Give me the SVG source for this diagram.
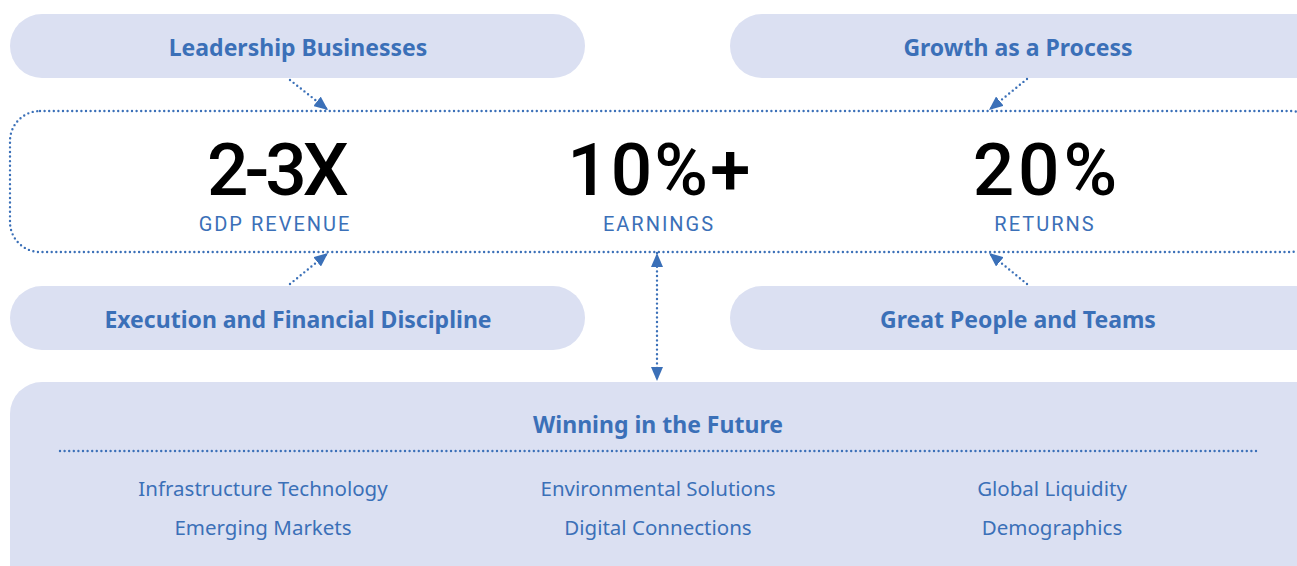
<svg xmlns="http://www.w3.org/2000/svg" width="1297" height="566" viewBox="0 0 1297 566">
  <defs>
    <style>
      .pill { fill: #dbe0f2; }
      .head { font-family: "Noto Sans", "DejaVu Sans", sans-serif; font-weight: 700; font-size: 23px; fill: #3b70b8; text-anchor: middle; }
      .big { font-family: Roboto, "Noto Sans", sans-serif; font-weight: 500; font-size: 73px; fill: #000; text-anchor: middle; }
      .sub { font-family: Roboto, "Noto Sans", sans-serif; font-size: 20px; letter-spacing: 2px; fill: #3b70b8; text-anchor: middle; }
      .item { font-family: "Noto Sans", "DejaVu Sans", sans-serif; font-size: 20.5px; fill: #3b70b8; text-anchor: middle; }
      .dots { fill: none; stroke: #3b70b8; stroke-width: 2.4; stroke-linecap: round; stroke-dasharray: 0 4.6; }
    </style>
    <marker id="arrow" viewBox="0 0 14 12" refX="14" refY="6" markerWidth="14" markerHeight="12" markerUnits="userSpaceOnUse" orient="auto-start-reverse">
      <path d="M0,0 L14,6 L0,12 Z" fill="#3b70b8"/>
    </marker>
  </defs>

  <!-- central metrics frame -->
  <g id="metrics">
    <rect class="dots" x="10" y="111" width="1310" height="141" rx="30"/>
    <text class="big" x="276" y="195" letter-spacing="-4">2-3X</text>
    <text class="sub" x="275" y="231">GDP REVENUE</text>
    <text class="big" x="660" y="195" letter-spacing="2">10%+</text>
    <text class="sub" x="659" y="231">EARNINGS</text>
    <text class="big" x="1047" y="195" letter-spacing="4">20%</text>
    <text class="sub" x="1045" y="231">RETURNS</text>
  </g>

  <g id="leadership">
    <rect class="pill" x="10" y="14" width="575" height="64" rx="32"/>
    <text class="head" x="298" y="56">Leadership Businesses</text>
  </g>

  <g id="growth">
    <rect class="pill" x="730" y="14" width="600" height="64" rx="32"/>
    <text class="head" x="1018" y="56">Growth as a Process</text>
  </g>

  <g id="execution">
    <rect class="pill" x="10" y="286" width="575" height="64" rx="32"/>
    <text class="head" x="298" y="328">Execution and Financial Discipline</text>
  </g>

  <g id="people">
    <rect class="pill" x="730" y="286" width="600" height="64" rx="32"/>
    <text class="head" x="1018" y="328">Great People and Teams</text>
  </g>

  <g id="future">
    <rect class="pill" x="10" y="382" width="1320" height="220" rx="32"/>
    <text class="head" x="658" y="433">Winning in the Future</text>
    <line class="dots" x1="60" y1="451" x2="1257" y2="451"/>
    <text class="item" x="263" y="496">Infrastructure Technology</text>
    <text class="item" x="263" y="535">Emerging Markets</text>
    <text class="item" x="658" y="496">Environmental Solutions</text>
    <text class="item" x="658" y="535">Digital Connections</text>
    <text class="item" x="1052" y="496">Global Liquidity</text>
    <text class="item" x="1052" y="535">Demographics</text>
  </g>

  <g id="connectors">
    <line class="dots" x1="290" y1="80" x2="328" y2="110" marker-end="url(#arrow)"/>
    <line class="dots" x1="1027" y1="79" x2="989" y2="110" marker-end="url(#arrow)"/>
    <line class="dots" x1="290" y1="284" x2="328" y2="253" marker-end="url(#arrow)"/>
    <line class="dots" x1="1027" y1="284" x2="989" y2="253" marker-end="url(#arrow)"/>
    <line class="dots" x1="657" y1="253" x2="657" y2="381" marker-start="url(#arrow)" marker-end="url(#arrow)"/>
  </g>
</svg>
